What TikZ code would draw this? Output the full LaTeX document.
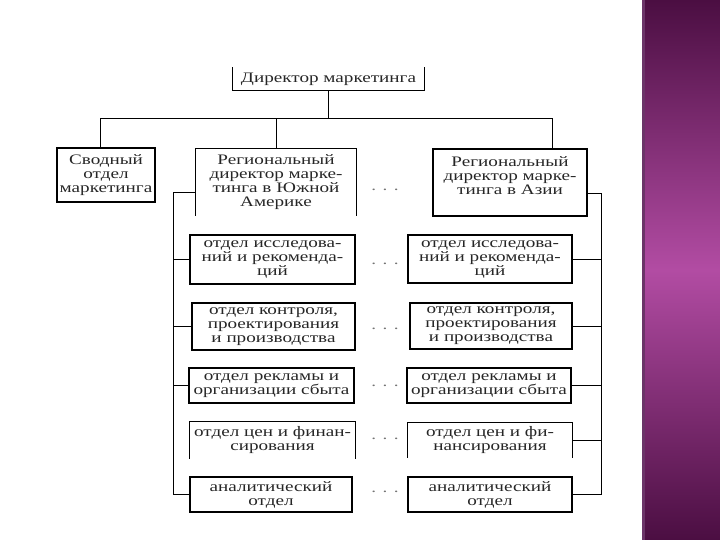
\documentclass[tikz,border=0pt]{standalone}
\usepackage{fontspec}
\setmainfont{Liberation Serif}[FakeStretch=1.32]
\usepackage{tikz}
\usetikzlibrary{positioning,calc}

\definecolor{plumdark}{HTML}{4B0E42}
\definecolor{plumlight}{HTML}{B24CA3}
\definecolor{plumedge}{HTML}{6B3468}

\begin{document}
\begin{tikzpicture}[x=1pt, y=-1pt,
  box/.style={rectangle, draw, line width=1.1pt, inner sep=1pt, align=center, text=black!85, font=\fontsize{14.5}{14}\selectfont},
  openbox/.style={box, draw=none},
  link/.style={line width=0.9pt},
  gap/.style={font=\fontsize{14.5}{14}\selectfont, text=black!55}
]
\useasboundingbox (0,0) rectangle (720,540);

% side band
\shade[top color=plumdark, bottom color=plumdark, middle color=plumlight] (642,0) rectangle (720,540);
\fill[plumedge] (642,0) rectangle (645,540);

% Top level
\node[openbox, minimum width=191pt, minimum height=22pt] (dir) at (328.5,79) {Директор маркетинга};

% Second level
\node[box, minimum width=98pt, minimum height=54pt] (svod) at (106,175) {Сводный\\отдел\\маркетинга};
\node[openbox, minimum width=160pt, minimum height=66pt] (regSA) at (276,182) {Региональный\\директор марке-\\тинга в Южной\\Америке};
\node[box, minimum width=154pt, minimum height=67pt] (regAs) at (510,182.5) {Региональный\\директор марке-\\тинга в Азии\\\mbox{}};

% Departments, South America
\node[box, minimum width=165pt, minimum height=49pt] (L1) at (272.5,259.5) {отдел исследова-\\ний и рекоменда-\\ций};
\node[box, minimum width=163pt, minimum height=47pt] (L2) at (273.5,326.5) {отдел контроля,\\проектирования\\и производства};
\node[box, minimum width=165pt, minimum height=35pt] (L3) at (271.5,385.5) {отдел рекламы и\\организации сбыта};
\node[openbox, minimum width=165pt, minimum height=36pt] (L4) at (272.5,440) {отдел цен и финан-\\сирования};
\node[box, minimum width=162pt, minimum height=35pt] (L5) at (271,494.5) {аналитический\\отдел};

% Departments, Asia
\node[box, minimum width=164pt, minimum height=48pt] (R1) at (490,259) {отдел исследова-\\ний и рекоменда-\\ций};
\node[box, minimum width=162pt, minimum height=46pt] (R2) at (491,326) {отдел контроля,\\проектирования\\и производства};
\node[box, minimum width=164pt, minimum height=35pt] (R3) at (489,385.5) {отдел рекламы и\\организации сбыта};
\node[openbox, minimum width=164pt, minimum height=34pt] (R4) at (490,440) {отдел цен и фи-\\нансирования};
\node[box, minimum width=164pt, minimum height=35pt] (R5) at (490,494.5) {аналитический\\отдел};

% Open boxes
\draw[line width=1.1pt] (dir.north west) -- (dir.south west) -- (dir.south east) -- (dir.north east);
\foreach \n in {regSA,L4,R4}
  \draw[line width=1.1pt] (\n.south west) -- (\n.north west) -- (\n.north east) -- (\n.south east);

% Dots
\node[gap] (dots0) at (385,190) {. . .};
\node[gap] (dots1) at (385,264) {. . .};
\node[gap] (dots2) at (385,329) {. . .};
\node[gap] (dots3) at (385,386) {. . .};
\node[gap] (dots4) at (385,439) {. . .};
\node[gap] (dots5) at (385,492) {. . .};

% Bus
\coordinate (busL) at (100,118);
\coordinate (busR) at (552,118);
\draw[link] (dir.south) -- (dir.south |- busL);
\draw[link] (svod.north -| busL) -- (busL) -- (busR) -- (regAs.north -| busR);
\draw[link] (regSA.north) -- (regSA.north |- busL);

% Spines
\coordinate (spineL) at (173,192);
\coordinate (spineR) at (601,193);
\draw[link] (regSA.west |- spineL) -- (spineL) |- (L5.west);
\foreach \n in {L1,L2,L3}
  \draw[link] (spineL |- \n.west) -- (\n.west);
\draw[link] (regAs.east |- spineR) -- (spineR) |- (R5.east);
\foreach \n in {R1,R2,R3,R4}
  \draw[link] (spineR |- \n.east) -- (\n.east);

\end{tikzpicture}
\end{document}
